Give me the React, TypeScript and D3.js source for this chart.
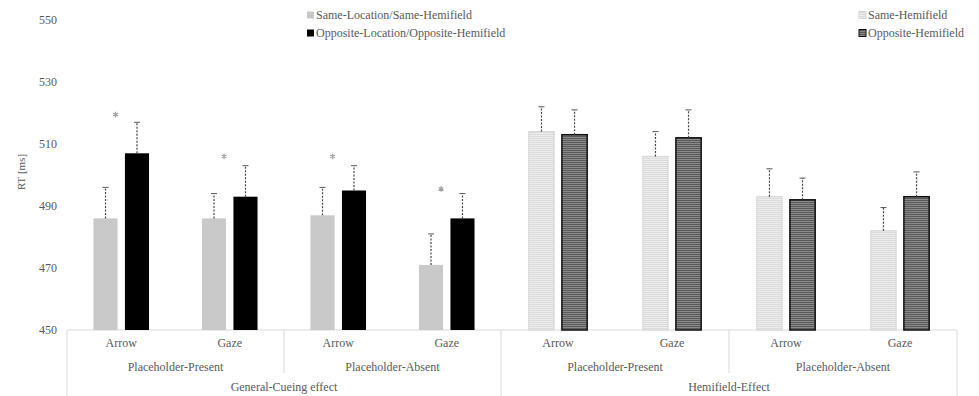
import React, { useRef, useEffect } from 'react';
import * as d3 from 'd3';

const groups = ['General-Cueing effect', 'Hemifield-Effect'];
const subgroups = ['Placeholder-Present', 'Placeholder-Absent'];
const cues = ['Arrow', 'Gaze'];

// General-Cueing effect, order: PP-Arrow, PP-Gaze, PA-Arrow, PA-Gaze
const sameLocation = [486, 486, 487, 471];
const sameLocationErr = [10, 8, 9, 10];
const oppositeLocation = [507, 493, 495, 486];
const oppositeLocationErr = [10, 10, 8, 8];
const asterisks = [519.5, 506, 506, 495.5];

// Hemifield-Effect
const sameHemifield = [514, 506, 493, 482];
const sameHemifieldErr = [8, 8, 9, 7.5];
const oppositeHemifield = [513, 512, 492, 493];
const oppositeHemifieldErr = [8, 9, 7, 8];

const yTicks = [450, 470, 490, 510, 530, 550];

export default function App() {
  const ref = useRef<SVGSVGElement>(null);

  useEffect(() => {
    document.body.style.margin = '0';
    const svg = d3.select(ref.current);
    svg.selectAll('*').remove();
    const width = 979, height = 396;
    const top = 20, bottom = 330;
    const font = 'Liberation Serif';
    const textColor = '#595959';
    const lineColor = '#d9d9d9';

    svg.style('font-family', font);

    const defs = svg.append('defs');
    const light = defs.append('pattern').attr('id', 'stripeLight')
      .attr('patternUnits', 'userSpaceOnUse').attr('width', 4).attr('height', 2);
    light.append('rect').attr('width', 4).attr('height', 2).attr('fill', '#ececec');
    light.append('rect').attr('width', 4).attr('height', 1).attr('fill', '#dcdcdc');
    const dark = defs.append('pattern').attr('id', 'stripeDark')
      .attr('patternUnits', 'userSpaceOnUse').attr('width', 4).attr('height', 2);
    dark.append('rect').attr('width', 4).attr('height', 2).attr('fill', '#8a8a8a');
    dark.append('rect').attr('width', 4).attr('height', 1).attr('fill', '#5a5a5a');

    const y = d3.scaleLinear().domain([450, 550]).range([bottom, top]);

    // the two halves of the axis are not quite the same width in the picture
    const groupRange: Record<string, [number, number]> = {
      [groups[0]]: [67, 501],
      [groups[1]]: [501, 957],
    };

    // y axis
    const yAxis = svg.append('g')
      .attr('transform', `translate(57,0)`)
      .call(d3.axisLeft(y).tickValues(yTicks).tickSize(0).tickPadding(0));
    yAxis.attr('font-family', null);
    yAxis.select('.domain').remove();
    yAxis.selectAll('text').attr('font-size', 12).attr('fill', textColor);

    svg.append('text')
      .attr('transform', `translate(25,172) rotate(-90)`)
      .attr('text-anchor', 'middle')
      .attr('font-size', 11).attr('fill', textColor)
      .text('RT [ms]');

    // category axis frame
    const axis = svg.append('g').attr('font-size', 12).attr('fill', textColor).attr('text-anchor', 'middle');
    axis.append('line').attr('x1', groupRange[groups[0]][0]).attr('x2', groupRange[groups[1]][1])
      .attr('y1', bottom).attr('y2', bottom).attr('stroke', lineColor);

    const groupData = [
      { same: sameLocation, sameErr: sameLocationErr, opp: oppositeLocation, oppErr: oppositeLocationErr },
      { same: sameHemifield, sameErr: sameHemifieldErr, opp: oppositeHemifield, oppErr: oppositeHemifieldErr },
    ];

    const star = d3.symbol(d3.symbolAsterisk, 22);

    groups.forEach((g, gi) => {
      const [g0, g1] = groupRange[g];
      const sx = d3.scaleBand<string>().domain(subgroups).range([g0, g1]);
      axis.append('line').attr('x1', g0).attr('x2', g0).attr('y1', bottom).attr('y2', height).attr('stroke', lineColor);
      if (gi === groups.length - 1)
        axis.append('line').attr('x1', g1).attr('x2', g1).attr('y1', bottom).attr('y2', height).attr('stroke', lineColor);
      axis.append('text').attr('x', (g0 + g1) / 2).attr('y', 391).text(g);

      const d = groupData[gi];
      subgroups.forEach((s, si) => {
        const s0 = sx(s)!;
        const s1 = s0 + sx.bandwidth();
        if (si > 0)
          axis.append('line').attr('x1', s0).attr('x2', s0).attr('y1', bottom).attr('y2', 373).attr('stroke', lineColor);
        axis.append('text').attr('x', (s0 + s1) / 2).attr('y', 371).text(s);

        const cx = d3.scaleBand<string>().domain(cues).range([s0, s1]);
        cues.forEach((c, ci) => {
          const i = si * 2 + ci;
          const c0 = cx(c)!;
          const bw = cx.bandwidth();
          const mid = c0 + bw / 2;
          axis.append('text').attr('x', mid).attr('y', 347).text(c);

          const barW = bw * 0.222;
          const gap = bw * 0.068;
          const xs = mid - gap / 2 - barW;
          const xo = mid + gap / 2;

          const bars = [
            { x: xs, v: d.same[i], e: d.sameErr[i], series: 0 },
            { x: xo, v: d.opp[i], e: d.oppErr[i], series: 1 },
          ];
          bars.forEach(b => {
            const r = svg.append('rect')
              .attr('x', b.x).attr('y', y(b.v))
              .attr('width', barW).attr('height', y(450) - y(b.v));
            if (gi === 0) {
              r.attr('fill', b.series === 0 ? '#c9c9c9' : '#000');
            } else if (b.series === 0) {
              r.attr('fill', 'url(#stripeLight)').attr('stroke', '#d4d4d4').attr('stroke-width', 1);
            } else {
              r.attr('fill', 'url(#stripeDark)').attr('stroke', '#111').attr('stroke-width', 1.5);
            }
            const ex = b.x + barW / 2;
            svg.append('line').attr('x1', ex).attr('x2', ex)
              .attr('y1', y(b.v)).attr('y2', y(b.v + b.e))
              .attr('stroke', '#444').attr('stroke-width', 1.2).attr('stroke-dasharray', '2,1.5');
            svg.append('line').attr('x1', ex - 3).attr('x2', ex + 3)
              .attr('y1', y(b.v + b.e)).attr('y2', y(b.v + b.e))
              .attr('stroke', '#555').attr('stroke-width', 1);
          });

          if (gi === 0) {
            svg.append('path').attr('d', star()!)
              .attr('transform', `translate(${xs + barW - 2},${y(asterisks[i])})`)
              .attr('fill', 'none').attr('stroke', '#a0a0a0').attr('stroke-width', 1.2);
          }
        });
      });
    });

    // legends
    const legends = [
      { x: 307, items: [
        { label: 'Same-Location/Same-Hemifield', fill: '#c9c9c9', stroke: 'none' },
        { label: 'Opposite-Location/Opposite-Hemifield', fill: '#000', stroke: 'none' },
      ] },
      { x: 859, items: [
        { label: 'Same-Hemifield', fill: 'url(#stripeLight)', stroke: '#d4d4d4' },
        { label: 'Opposite-Hemifield', fill: 'url(#stripeDark)', stroke: '#111' },
      ] },
    ];
    legends.forEach(l => {
      l.items.forEach((it, k) => {
        const ly = 15 + k * 18;
        svg.append('rect').attr('x', l.x).attr('y', ly - 3.5).attr('width', 7).attr('height', 7)
          .attr('fill', it.fill).attr('stroke', it.stroke);
        svg.append('text').attr('x', l.x + 9).attr('y', ly + 4)
          .attr('font-size', 12).attr('fill', textColor)
          .text(it.label);
      });
    });

    svg.attr('width', width).attr('height', height);
  }, []);

  return <svg ref={ref} width={979} height={396} style={{ display: 'block', background: '#fff' }} />;
}
